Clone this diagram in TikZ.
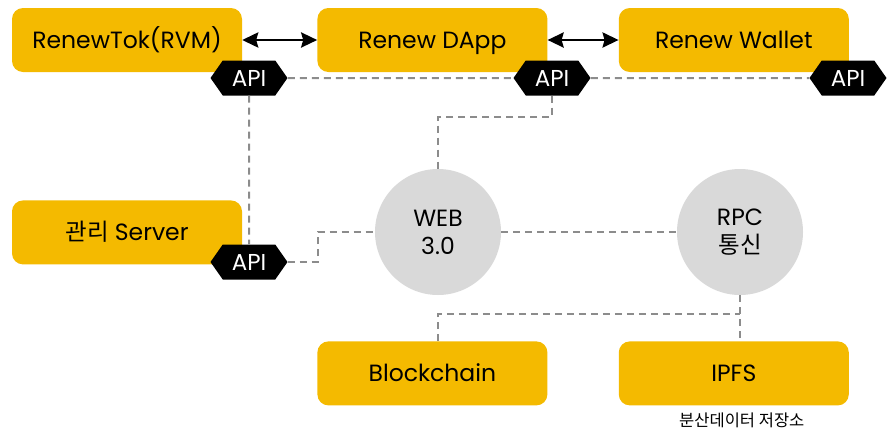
\documentclass[tikz,border=0pt]{standalone}
\usepackage{fontspec}
\setmainfont{Poppins}
\newfontfamily\kr{Noto Sans CJK KR}
\usetikzlibrary{positioning,shapes.symbols,arrows.meta}
\definecolor{boxyellow}{RGB}{244,186,0}
\definecolor{hubgray}{RGB}{217,217,217}
\definecolor{linegray}{RGB}{140,140,140}

\begin{document}
\begin{tikzpicture}[x=1pt, y=-1pt, node distance=75pt,
    block/.style={rectangle, fill=boxyellow, minimum width=230pt, minimum height=64pt, rounded corners=11pt, text height=16.5pt, text depth=0pt, font=\fontsize{23.5}{28}\selectfont},
    hub/.style={circle, fill=hubgray, minimum size=126pt, inner sep=0pt, align=center, font=\fontsize{23.5}{28}\selectfont},
    api/.style={signal, signal to=west and east, signal pointer angle=110, fill=black, text=white, minimum width=77pt, minimum height=35pt, inner sep=1pt, text height=16pt, text depth=0pt, font=\fontsize{23}{24}\selectfont},
    link/.style={draw=linegray, line width=2pt, dash pattern=on 7pt off 5pt},
    arrow/.style={{Stealth[length=16pt, width=15pt, inset=2pt]}-{Stealth[length=16pt, width=15pt, inset=2pt]}, line width=2.8pt}]
    \useasboundingbox (0,0) rectangle (887,429);

    % 상단 서비스
    \node[block] (renewtok) at (127,40) {RenewTok(RVM)};
    \node[block, right=75pt of renewtok] (dapp) {Renew DApp};
    \node[block, right=71pt of dapp] (wallet) {Renew Wallet};

    % 관리 서버, 저장 계층
    \node[block, below=128pt of renewtok] (server) {{\kr 관리} Server};
    \node[block, below=269pt of dapp] (blockchain) {Blockchain};
    \node[block, below=269pt of wallet] (ipfs) {IPFS};
    \node[below=7pt of ipfs, xshift=8pt, inner sep=0pt, font=\kr\fontsize{16.5}{18}\selectfont] (ipfsnote) {분산데이터 저장소};

    % 허브
    \node[hub] (web) at (438,232) {WEB\\3.0};
    \node[hub] (rpc) at (740,232) {RPC\\{\kr 통신}};
    \coordinate (join) at (740,314);

    % API 태그
    \node[api] (api1) at (249,78) {API};
    \node[api] (api2) at (552,78) {API};
    \node[api] (api3) at (848,78) {API};
    \node[api] (api4) at (249,262) {API};

    \draw[arrow] (renewtok) -- (dapp);
    \draw[arrow] (dapp) -- (wallet);

    \draw[link] (api1) -- (api2);
    \draw[link] (api2) -- (api3);
    \draw[link] (api1) -- (api4);
    \draw[link] (api2.south) -- ++(0,21) -| (web.north);
    \draw[link] (api4.east) -- ++(30,0) |- (web.west);
    \draw[link] (web) -- (rpc);
    \draw[link] (rpc.south) -- (rpc.south |- ipfs.north);
    \draw[link] (blockchain.north -| web) |- (join);
\end{tikzpicture}
\end{document}
